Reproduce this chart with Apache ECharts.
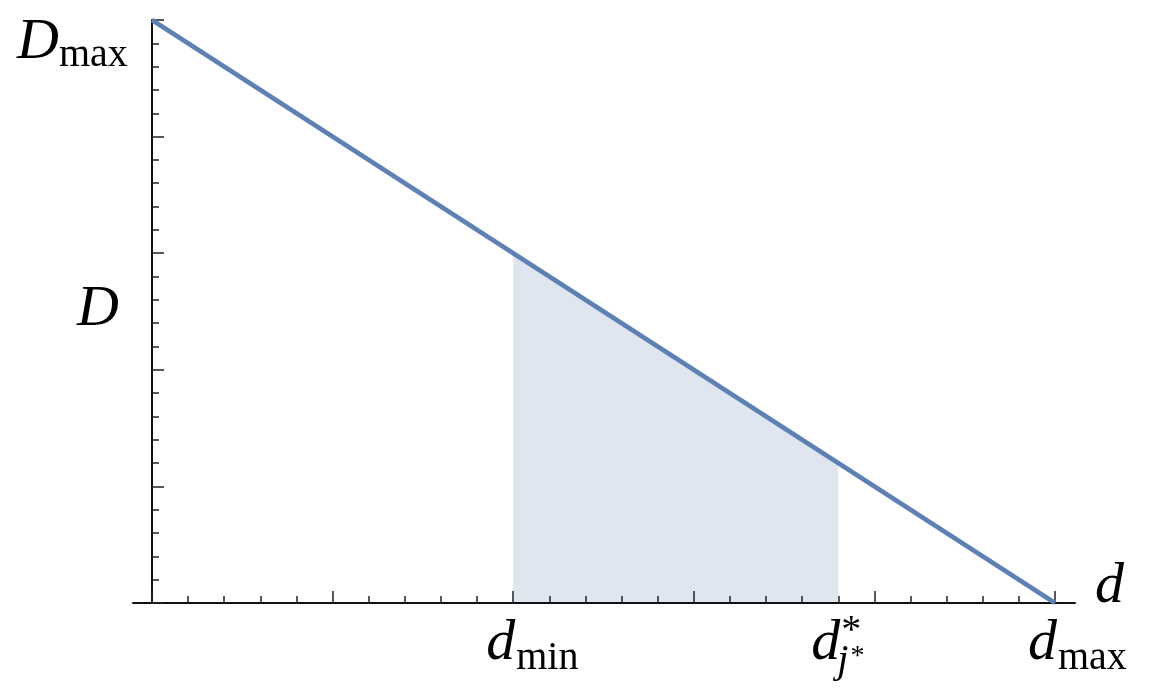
<!DOCTYPE html>
<html>
<head>
<meta charset="utf-8">
<script src="https://cdn.jsdelivr.net/npm/echarts@6/dist/echarts.min.js"></script>
<style>
    html, body { margin: 0; padding: 0; background: #fff; }
    #chart { width: 1162px; height: 692px; }
</style>
</head>
<body>
<div id="chart"></div>
<script>
// demand line D(d), from (0, Dmax) down to (dmax, 0)
var lineX = [0, 5];
var lineY = [5, 0];
// shaded band between d_min and d*_j*
var shadeX = [2, 3.8];
var shadeY = [3, 1.2];
// tick labels on the d axis: position, subscript, superscript
var xLabelValues = [2, 3.8, 5];
var xLabelSubs = ['min', 'j', 'max'];
var xLabelSups = ['', '*', ''];
var yMaxValue = 5;
var yNameValue = 2.5;

var FONT = '"Liberation Serif", "DejaVu Serif", serif';
var MAIN = 58, SUB = 40;
var BASE_K = 0.32; // middle -> baseline, in em

function zip(xs, ys) {
    var out = [];
    for (var i = 0; i < xs.length; i++) {
        out.push([xs[i], ys[i]]);
    }
    return out;
}

var measureCtx = document.createElement('canvas').getContext('2d');
function textWidth(str, size, italic) {
    measureCtx.font = (italic ? 'italic ' : '') + size + 'px ' + FONT;
    return measureCtx.measureText(str).width;
}

// text placed by its baseline
function txt(x, baseline, str, size, italic, align) {
    return {
        type: 'text',
        x: x,
        y: baseline - size * BASE_K,
        z: 10,
        style: {
            text: str,
            fontFamily: FONT,
            fontSize: size,
            fontStyle: italic ? 'italic' : 'normal',
            fill: '#000',
            align: align || 'left',
            verticalAlign: 'middle'
        }
    };
}

var chart = echarts.init(document.getElementById('chart'));

var axisStyle = { color: '#111', width: 2 };
var tickStyle = { color: '#222', width: 1.5 };

chart.setOption({
    animation: false,
    backgroundColor: '#fff',
    grid: [
        { left: 152, right: 107, top: 20, bottom: 89 },
        { left: 133, right: 87, top: 20, bottom: 89 }
    ],
    xAxis: [{
        type: 'value',
        gridIndex: 0,
        min: 0,
        max: 5,
        interval: 1,
        z: 3,
        axisLine: { show: false },
        axisTick: { show: true, inside: true, length: 12, lineStyle: tickStyle },
        minorTick: { show: true, splitNumber: 5, length: 7, lineStyle: tickStyle },
        axisLabel: { show: false },
        splitLine: { show: false }
    }, {
        type: 'value',
        gridIndex: 1,
        min: 0,
        max: 1,
        z: 3,
        axisLine: { show: true, onZero: false, lineStyle: axisStyle },
        axisTick: { show: false },
        axisLabel: { show: false },
        splitLine: { show: false }
    }],
    yAxis: [{
        type: 'value',
        gridIndex: 0,
        min: 0,
        max: 5,
        interval: 1,
        z: 3,
        axisLine: { show: true, onZero: false, lineStyle: axisStyle },
        axisTick: { show: true, inside: true, length: 12, lineStyle: tickStyle },
        minorTick: { show: true, splitNumber: 5, length: 7, lineStyle: tickStyle },
        axisLabel: { show: false },
        splitLine: { show: false }
    }, {
        type: 'value',
        gridIndex: 1,
        min: 0,
        max: 1,
        show: false
    }],
    series: [{
        type: 'line',
        name: 'shade',
        xAxisIndex: 0,
        yAxisIndex: 0,
        data: zip(shadeX, shadeY),
        showSymbol: false,
        z: 1,
        lineStyle: { width: 0, opacity: 0 },
        areaStyle: { color: '#dfe6f0', opacity: 1 }
    }, {
        type: 'line',
        name: 'D',
        xAxisIndex: 0,
        yAxisIndex: 0,
        data: zip(lineX, lineY),
        showSymbol: false,
        clip: false,
        z: 5,
        lineStyle: { color: '#5e81b5', width: 4.5 }
    }]
});

// labels, anchored on the axes through the chart's own scales
var g = [];
var xa, i, p, X, dW;
for (i = 0; i < xLabelValues.length; i++) {
    p = chart.convertToPixel({ gridIndex: 0 }, [xLabelValues[i], 0]);
    X = p[0] + 2;
    g.push(txt(X, p[1] + 59, 'd', MAIN, true, 'right'));
    if (xLabelSups[i]) {
        g.push(txt(X + 1, p[1] + 41, xLabelSups[i], SUB, false, 'left'));
        g.push(txt(X - 3, p[1] + 71, xLabelSubs[i], SUB, true, 'left'));
        dW = textWidth(xLabelSubs[i], SUB, true);
        g.push(txt(X - 3 + dW + 2, p[1] + 63, '*', 28, false, 'left'));
    } else {
        g.push(txt(X + 1, p[1] + 68, xLabelSubs[i], SUB, false, 'left'));
    }
}
// d axis name at the end of the long axis line
xa = chart.convertToPixel({ gridIndex: 1 }, [1, 0]);
g.push(txt(xa[0] + 20, xa[1] + 2, 'd', MAIN, true, 'left'));

// D_max at the top of the D axis
p = chart.convertToPixel({ gridIndex: 0 }, [0, yMaxValue]);
g.push(txt(p[0] - 93, p[1] + 41, 'D', MAIN, true, 'right'));
g.push(txt(p[0] - 93, p[1] + 48, 'max', SUB, false, 'left'));
// D axis name
p = chart.convertToPixel({ gridIndex: 0 }, [0, yNameValue]);
g.push(txt(p[0] - 33, p[1] + 17, 'D', MAIN, true, 'right'));

chart.setOption({ graphic: g });
</script>
</body>
</html>
